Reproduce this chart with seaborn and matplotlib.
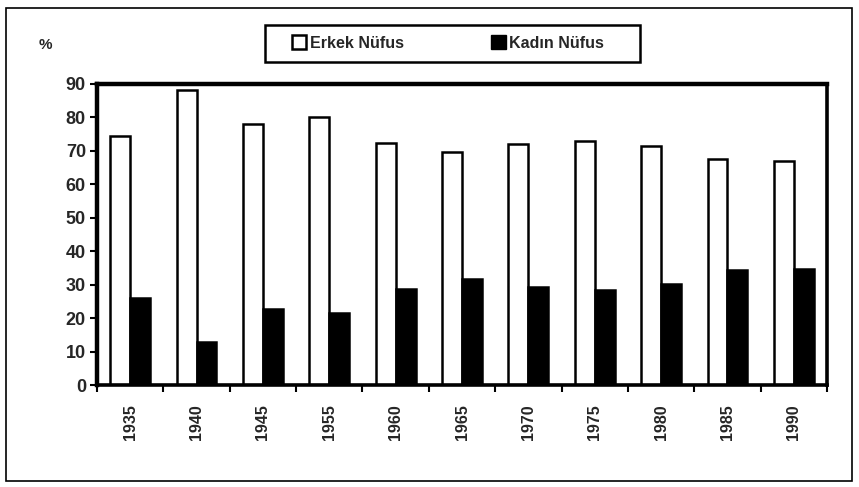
import matplotlib
matplotlib.use("Agg")
import matplotlib.pyplot as plt
import seaborn as sns
import pandas as pd
from matplotlib.patches import Patch, Rectangle

years = ["1935", "1940", "1945", "1955", "1960", "1965", "1970", "1975", "1980", "1985", "1990"]
erkek = [74.5, 88.3, 78.1, 80.0, 72.5, 69.7, 72.0, 73.0, 71.5, 67.5, 67.0]
kadin = [26.0, 13.0, 22.7, 21.6, 28.8, 31.7, 29.4, 28.4, 30.2, 34.4, 34.7]
series = ["Erkek Nüfus", "Kadın Nüfus"]
yticks = [0, 10, 20, 30, 40, 50, 60, 70, 80, 90]

df = pd.DataFrame({
    "Yıl": years * 2,
    "Seri": [series[0]] * len(years) + [series[1]] * len(years),
    "Değer": erkek + kadin,
})

sns.set_theme(style="white")
plt.rcParams["font.family"] = ["Liberation Sans", "DejaVu Sans"]

fig = plt.figure(figsize=(8.59, 4.87), dpi=100)
ax = fig.add_axes([97 / 859, 1 - 385 / 487, (827 - 97) / 859, (385 - 84) / 487])

sns.barplot(data=df, x="Yıl", y="Değer", hue="Seri", hue_order=series,
            palette={series[0]: "white", series[1]: "black"},
            edgecolor="black", linewidth=1.8, width=0.6, gap=0,
            ax=ax, legend=False, errorbar=None)

ax.set_xlim(-0.5, len(years) - 0.5)
ax.set_ylim(0, 90)
ax.set_yticks(yticks)
ax.set_yticklabels([str(v) for v in yticks], fontsize=13, fontweight="bold")
ax.set_xticks(range(len(years)))
ax.set_xticklabels(years, rotation=90, fontsize=11.5, fontweight="bold")
ax.set_xticks([i - 0.5 for i in range(len(years) + 1)], minor=True)
ax.tick_params(axis="x", which="major", length=0, pad=14)
ax.tick_params(axis="x", which="minor", length=5, width=1.5, direction="out", color="black", bottom=True)
ax.tick_params(axis="y", length=5, width=1.5, direction="out", color="black", left=True, pad=3)
ax.set_xlabel("")
ax.set_ylabel("")
for s in ["top", "left"]:
    ax.spines[s].set_linewidth(3.2)
for s in ["right", "bottom"]:
    ax.spines[s].set_linewidth(2.6)
for s in ax.spines.values():
    s.set_color("black")

fig.text(45 / 859, 1 - 45 / 487, "%", fontsize=11, fontweight="bold", ha="center", va="center")

handles = [Patch(facecolor="white", edgecolor="black", linewidth=1.8, label=series[0]),
           Patch(facecolor="black", edgecolor="black", label=series[1])]
leg = fig.legend(handles=handles, ncol=2, loc="center",
                 bbox_to_anchor=(448 / 859, 1 - 43 / 487),
                 prop={"weight": "bold", "size": 11.5},
                 handlelength=0.9, handleheight=0.9, handletextpad=0.2,
                 columnspacing=5.5, borderaxespad=0, frameon=False)

fig.patches.append(Rectangle((265 / 859, 1 - 62 / 487), (640 - 265) / 859, (62 - 25) / 487,
                             transform=fig.transFigure, fill=False, edgecolor="black", linewidth=1.8))
fig.patches.append(Rectangle((6 / 859, 1 - 481 / 487), (852 - 6) / 859, (481 - 8) / 487,
                             transform=fig.transFigure, fill=False, edgecolor="black", linewidth=1.2))

fig.savefig("out.png", dpi=100)
